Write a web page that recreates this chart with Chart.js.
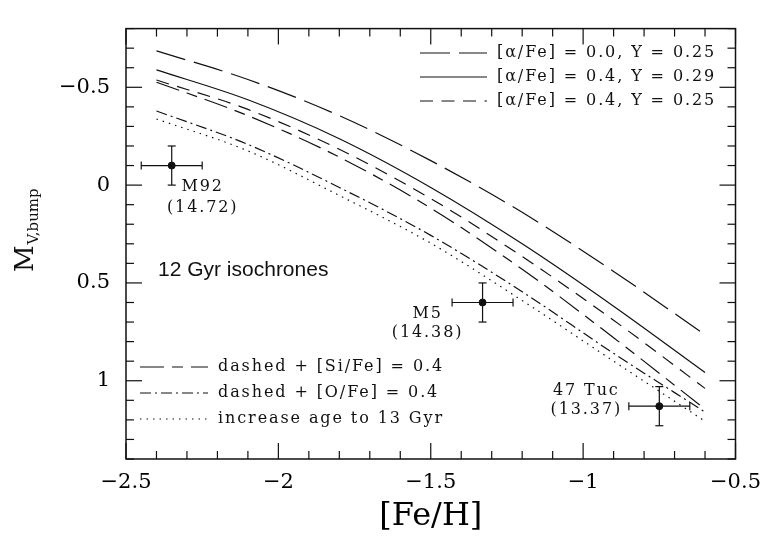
<!DOCTYPE html>
<html>
<head>
<meta charset="utf-8">
<script src="https://cdn.jsdelivr.net/npm/chart.js@4.4.1/dist/chart.umd.min.js"></script>
<style>
  html, body { margin: 0; padding: 0; background: #fff; }
  canvas { display: block; }
</style>
</head>
<body>
<canvas id="bumpchart" width="772" height="536"></canvas>
<script>
// [Fe/H] values the isochrone curves were read at
const fehGrid = [-2.4, -2.1, -1.8, -1.5, -1.2, -0.9, -0.6];

// M_V of the RGB bump, 12 Gyr isochrones
const alpha00_Y025 = [-0.686, -0.540, -0.355, -0.125, 0.139, 0.441, 0.765];
const alpha04_Y029 = [-0.589, -0.436, -0.237, 0.012, 0.300, 0.619, 0.958];
const alpha04_Y025 = [-0.537, -0.387, -0.183, 0.069, 0.365, 0.691, 1.039];
const plusSiFe = [-0.526, -0.355, -0.143, 0.118, 0.430, 0.780, 1.145];
const plusOFe = [-0.379, -0.208, 0.012, 0.257, 0.545, 0.860, 1.160];
const age13Gyr = [-0.338, -0.175, 0.053, 0.297, 0.590, 0.900, 1.207];

// globular clusters
const clusterNames = ['M92', 'M5', '47 Tuc'];
const clusterAges = ['(14.72)', '(14.38)', '(13.37)'];
const clusterFeH = [-2.35, -1.33, -0.75];
const clusterMv = [-0.10, 0.60, 1.13];
const clusterFeHErr = [0.1, 0.1, 0.1];
const clusterMvErr = [0.1, 0.1, 0.1];

// axis tick labels
const fehTicks = [-2.5, -2, -1.5, -1, -0.5];
const mvTicks = [-0.5, 0, 0.5, 1];

const serif = '"DejaVu Serif", serif';
const ink = '#111';

const toPoints = (ys) => fehGrid.map((x, i) => ({ x: x, y: ys[i] }));
const minusLabel = (v) => (v < 0 ? '\u2212' : '') + Math.abs(v);

const curve = (label, ys, dash) => ({
    label: label,
    data: toPoints(ys),
    showLine: true,
    borderColor: ink,
    borderWidth: 1.2,
    borderDash: dash,
    pointRadius: 0,
    fill: false,
    cubicInterpolationMode: 'monotone'
});

// draws the boxed frame, inward ticks, error bars, keys and labels
const bumpDecor = {
    id: 'bumpDecor',
    beforeDatasetsDraw(chart) {
        const ctx = chart.ctx, xs = chart.scales.x, ys = chart.scales.y;
        ctx.save();
        ctx.strokeStyle = ink;
        ctx.lineWidth = 1.2;
        const seg = (x1, y1, x2, y2) => { ctx.beginPath(); ctx.moveTo(x1, y1); ctx.lineTo(x2, y2); ctx.stroke(); };
        clusterFeH.forEach((fe, i) => {
            const px = xs.getPixelForValue(fe), py = ys.getPixelForValue(clusterMv[i]);
            const xl = xs.getPixelForValue(fe - clusterFeHErr[i]), xr = xs.getPixelForValue(fe + clusterFeHErr[i]);
            const yt = ys.getPixelForValue(clusterMv[i] - clusterMvErr[i]), yb = ys.getPixelForValue(clusterMv[i] + clusterMvErr[i]);
            seg(xl, py, xr, py);
            seg(xl, py - 4, xl, py + 4);
            seg(xr, py - 4, xr, py + 4);
            seg(px, yt, px, yb);
            seg(px - 4, yt, px + 4, yt);
            seg(px - 4, yb, px + 4, yb);
        });
        ctx.restore();
    },
    afterDraw(chart) {
        const ctx = chart.ctx, a = chart.chartArea, xs = chart.scales.x, ys = chart.scales.y;
        ctx.save();
        ctx.strokeStyle = ink;
        ctx.fillStyle = ink;
        const seg = (x1, y1, x2, y2) => { ctx.beginPath(); ctx.moveTo(x1, y1); ctx.lineTo(x2, y2); ctx.stroke(); };

        // frame
        ctx.lineWidth = 1.5;
        ctx.strokeRect(a.left, a.top, a.right - a.left, a.bottom - a.top);

        // inward ticks, major every 0.5, minor every 0.1
        ctx.lineWidth = 1.2;
        for (let i = -25; i <= -5; i++) {
            const len = i % 5 === 0 ? 16 : 8;
            const px = xs.getPixelForValue(i / 10);
            seg(px, a.bottom, px, a.bottom - len);
            seg(px, a.top, px, a.top + len);
        }
        for (let i = -8; i <= 14; i++) {
            const len = i % 5 === 0 ? 16 : 8;
            const py = ys.getPixelForValue(i / 10);
            seg(a.left, py, a.left + len, py);
            seg(a.right, py, a.right - len, py);
        }

        // line keys
        ctx.font = '16px ' + serif;
        ctx.letterSpacing = '1.9px';
        ctx.textBaseline = 'middle';
        ctx.textAlign = 'left';
        const key = (ds, x, y, w) => {
            ctx.lineWidth = 1.2;
            ctx.setLineDash(ds.borderDash || []);
            seg(x, y, x + w, y);
            ctx.setLineDash([]);
            ctx.fillText(ds.label, x + w + 10, y);
        };
        const sets = chart.data.datasets;
        key(sets[0], 420, 53, 67);
        key(sets[1], 420, 77, 67);
        key(sets[2], 420, 101, 67);
        key(sets[3], 140, 367, 68);
        key(sets[4], 140, 393, 68);
        key(sets[5], 140, 419, 68);

        // cluster names and ages
        ctx.textAlign = 'center';
        const offsets = [[31, 21, 42], [-55, 11, 30], [-73, -15, 4]];
        clusterNames.forEach((name, i) => {
            const px = xs.getPixelForValue(clusterFeH[i]), py = ys.getPixelForValue(clusterMv[i]);
            const o = offsets[i];
            ctx.fillText(name, px + o[0], py + o[1]);
            ctx.fillText(clusterAges[i], px + o[0], py + o[2]);
        });

        // isochrone note
        ctx.letterSpacing = '0px';
        ctx.textAlign = 'left';
        ctx.font = '21px "Liberation Sans", Arial, sans-serif';
        ctx.fillText('12 Gyr isochrones', 158, 270);

        // y axis title with subscript
        ctx.translate(33, 272);
        ctx.rotate(-Math.PI / 2);
        ctx.textBaseline = 'alphabetic';
        ctx.font = '26px ' + serif;
        ctx.fillText('M', 0, 0);
        const mw = ctx.measureText('M').width;
        ctx.font = '15px ' + serif;
        ctx.fillText('V,bump', mw + 1, 5);
        ctx.restore();
    }
};

new Chart(document.getElementById('bumpchart'), {
    type: 'scatter',
    data: {
        datasets: [
            curve('[\u03b1/Fe] = 0.0, Y = 0.25', alpha00_Y025, [30, 9]),
            curve('[\u03b1/Fe] = 0.4, Y = 0.29', alpha04_Y029, []),
            curve('[\u03b1/Fe] = 0.4, Y = 0.25', alpha04_Y025, [13, 8.5]),
            curve('dashed + [Si/Fe] = 0.4', plusSiFe, [24, 8, 11, 8]),
            curve('dashed + [O/Fe] = 0.4', plusOFe, [11, 4, 2, 4]),
            curve('increase age to 13 Gyr', age13Gyr, [1.5, 5]),
            {
                label: 'clusters',
                data: clusterFeH.map((x, i) => ({ x: x, y: clusterMv[i] })),
                pointRadius: 3.5,
                pointBackgroundColor: ink,
                pointBorderColor: ink,
                showLine: false
            }
        ]
    },
    plugins: [bumpDecor],
    options: {
        responsive: false,
        animation: false,
        layout: { padding: { top: 9, right: 28, left: 0, bottom: 0 } },
        plugins: {
            legend: { display: false },
            tooltip: { enabled: false }
        },
        scales: {
            x: {
                type: 'linear',
                min: -2.5,
                max: -0.5,
                grid: { display: false, drawTicks: false, tickLength: 0 },
                border: { display: false },
                afterBuildTicks: (axis) => { axis.ticks = fehTicks.map(v => ({ value: v })); },
                afterFit: (axis) => { axis.height = 77; },
                ticks: {
                    color: '#000',
                    padding: 11,
                    maxRotation: 0,
                    autoSkip: false,
                    font: { family: serif, size: 21 },
                    callback: (v) => minusLabel(v)
                },
                title: {
                    display: true,
                    text: '[Fe/H]',
                    color: '#000',
                    padding: { top: 0, bottom: 0 },
                    font: { family: serif, size: 32 }
                }
            },
            y: {
                type: 'linear',
                reverse: true,
                min: -0.8,
                max: 1.4,
                grid: { display: false, drawTicks: false, tickLength: 0 },
                border: { display: false },
                afterBuildTicks: (axis) => { axis.ticks = mvTicks.map(v => ({ value: v })); },
                afterFit: (axis) => { axis.width = 126; },
                ticks: {
                    color: '#000',
                    padding: 16,
                    autoSkip: false,
                    font: { family: serif, size: 21 },
                    callback: (v) => minusLabel(v)
                }
            }
        }
    }
});
</script>
</body>
</html>
